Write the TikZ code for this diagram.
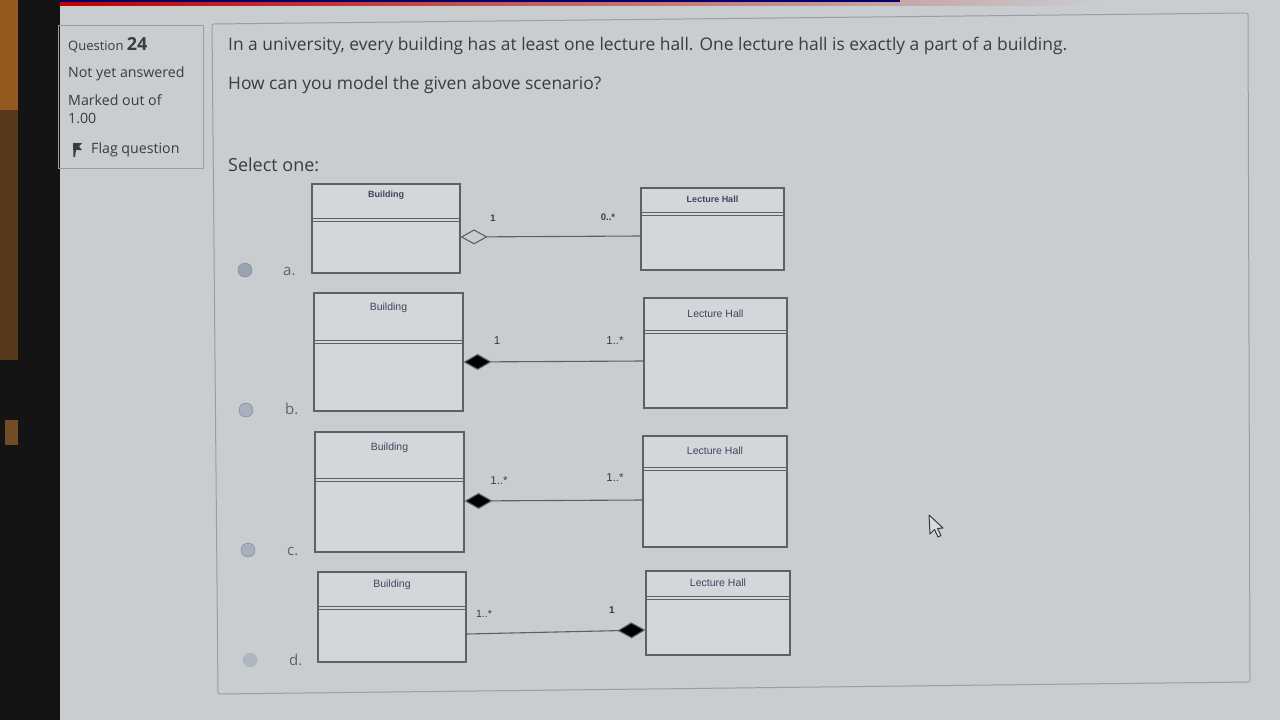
\documentclass[tikz,border=0pt]{standalone}
\usepackage{fontspec}
\setmainfont{Open Sans}
\newfontfamily\umlfont{Liberation Sans}
\usetikzlibrary{arrows.meta,calc}
\definecolor{screenbg}{HTML}{C9CDD0}
\definecolor{txt}{HTML}{3A3D40}
\definecolor{umltxt}{HTML}{3C4660}
\definecolor{boxline}{HTML}{5C6068}
\definecolor{frame}{HTML}{9A9EA2}
\definecolor{radio}{HTML}{9AA3B4}
\tikzset{
  cls/.style={draw=boxline, line width=1.1pt, fill=screenbg!80!white, inner sep=0pt},
  divl/.style={draw=boxline, line width=0.9pt},
  clsname/.style={font=\umlfont\fontsize{10.5}{12}\selectfont, text=umltxt, anchor=north, inner sep=0pt},
  mult/.style={font=\umlfont\fontsize{11.5}{12}\selectfont, text=txt, inner sep=0pt},
  conn/.style={draw=boxline, line width=1.1pt},
  aggr/.style={conn, {Diamond[open, length=27pt, width=15pt, line width=1.1pt]}-},
  comp/.style={conn, {Diamond[fill=black, length=28pt, width=16pt]}-},
  qtext/.style={font=\fontsize{17.4}{20}\selectfont, text=txt, anchor=base west, inner sep=0pt},
  info/.style={font=\fontsize{14.2}{16}\selectfont, text=txt, anchor=base west, inner sep=0pt},
  rbtn/.style={circle, draw=radio!80!black, fill=radio, minimum size=14pt, inner sep=0pt},
  rlab/.style={font=\fontsize{15}{17}\selectfont, text=txt!80, anchor=base west, inner sep=0pt}
}
\newcommand\divider[2]{\draw[divl] ([yshift=-#2 pt]#1.north west) -- ([yshift=-#2 pt]#1.north east);}
\begin{document}
\begin{tikzpicture}[x=1pt,y=-1pt]
\useasboundingbox (0,0) rectangle (1280,720);
% photo surroundings
\fill[screenbg] (0,0) rectangle (1280,720);
\fill[black!92] (0,0) rectangle (60,720);
\fill[brown!70!orange!70!black] (0,0) rectangle (18,110);
\fill[brown!45!black] (0,110) rectangle (18,360);
\fill[brown!60!black] (5,420) rectangle (18,445);
\shade[left color=red!75!black, right color=screenbg] (60,0) rectangle (1100,5);
\fill[blue!40!black] (60,0) rectangle (900,1.5);

% info box
\draw[frame, line width=1pt] (58,25) rectangle (203,168);
\node[info, anchor=base west] (qlab) at (68,50) {\fontsize{13}{15}\selectfont Question \fontsize{18}{20}\selectfont\bfseries 24};
\node[info] (status) at (68,77) {Not yet answered};
\node[info] (marked) at (68,105) {Marked out of};
\node[info] (mark) at (68,123) {1.00};
\fill[txt] (73,143) -- (82,143) -- (79,146.5) -- (82,150) -- (76,150) -- (75,157) -- (73.5,157) -- cycle;
\node[info] (flag) at (91,153) {Flag question};

% content frame
\draw[frame, line width=1pt, rounded corners=2pt] (212,24) -- (1248,13) -- (1250,682) -- (218,694) -- cycle;
\node[qtext] (q1) at (228,50) {In a university, every building has at least one lecture hall. One lecture hall is exactly a part of a building.};
\node[qtext] (q2) at (228,89) {How can you model the given above scenario?};
\node[qtext, font=\fontsize{18}{20}\selectfont] (sel) at (228,171) {Select one:};

% radio buttons
\node[rbtn] (ra) at (245,270) {};
\node[rlab] (la1) at (283,275) {a.};
\node[rbtn, fill=radio!70!screenbg] (rb) at (246,410) {};
\node[rlab] (lb1) at (285,414) {b.};
\node[rbtn, fill=radio!70!screenbg] (rc) at (248,550) {};
\node[rlab] (lc1) at (287,555) {c.};
\node[rbtn, fill=radio!55!screenbg, draw=radio!60!screenbg] (rd) at (250,660) {};
\node[rlab] (ld1) at (289,665) {d.};

% option a
\node[cls, minimum width=148pt, minimum height=89pt] (ba) at (386,228.5) {};
\node[cls, minimum width=143pt, minimum height=82pt] (lha) at (712.5,229) {};
\divider{ba}{35}\divider{ba}{38}
\divider{lha}{25}\divider{lha}{28}
\node[clsname, font=\umlfont\bfseries\fontsize{9}{10}\selectfont] (bna) at ([yshift=-7pt]ba.north) {Building};
\node[clsname, font=\umlfont\bfseries\fontsize{9}{10}\selectfont] (lna) at ([yshift=-8pt]lha.north) {Lecture Hall};
\draw[aggr] ([yshift=-8.5pt]ba.east) -- ([yshift=-7pt]lha.west);
\node[mult, font=\umlfont\bfseries\fontsize{9.5}{10}\selectfont] (ma1) at (493,218) {1};
\node[mult, font=\umlfont\bfseries\fontsize{9.5}{10}\selectfont] (ma2) at (608,217) {0..*};

% option b
\node[cls, minimum width=149pt, minimum height=118pt] (bb) at (388.5,352) {};
\node[cls, minimum width=143pt, minimum height=110pt] (lhb) at (715.5,353) {};
\divider{bb}{48}\divider{bb}{51}
\divider{lhb}{33}\divider{lhb}{36}
\node[clsname] (bnb) at ([yshift=-10pt]bb.north) {Building};
\node[clsname] (lnb) at ([yshift=-12pt]lhb.north) {Lecture Hall};
\draw[comp] ([yshift=-10pt]bb.east) -- ([yshift=-8pt]lhb.west);
\node[mult] (mb1) at (497,341) {1};
\node[mult] (mb2) at (615,341) {1..*};

% option c
\node[cls, minimum width=149pt, minimum height=120pt] (bc) at (389.5,492) {};
\node[cls, minimum width=144pt, minimum height=111pt] (lhc) at (715,491.5) {};
\divider{bc}{47}\divider{bc}{50}
\divider{lhc}{32}\divider{lhc}{35}
\node[clsname] (bnc) at ([yshift=-11pt]bc.north) {Building};
\node[clsname] (lnc) at ([yshift=-11pt]lhc.north) {Lecture Hall};
\draw[comp] ([yshift=-9pt]bc.east) -- ([yshift=-8.5pt]lhc.west);
\node[mult] (mc1) at (499,481) {1..*};
\node[mult] (mc2) at (615,478) {1..*};

% option d
\node[cls, minimum width=148pt, minimum height=90pt] (bd) at (392,617) {};
\node[cls, minimum width=144pt, minimum height=84pt] (lhd) at (718,613) {};
\divider{bd}{35}\divider{bd}{38}
\divider{lhd}{26}\divider{lhd}{29}
\node[clsname] (bnd) at ([yshift=-8pt]bd.north) {Building};
\node[clsname] (lnd) at ([yshift=-8pt]lhd.north) {Lecture Hall};
\draw[comp] ([yshift=-17pt]lhd.west) -- ([yshift=-17pt]bd.east);
\node[mult, font=\umlfont\fontsize{10.5}{11}\selectfont] (md1) at (484,614) {1..*};
\node[mult, font=\umlfont\bfseries\fontsize{10}{11}\selectfont] (md2) at (612,610) {1};

% mouse cursor
\draw[txt, line width=1pt, fill=screenbg!70!white, line join=round] (929,515) -- (930,534) -- (934.5,529.5) -- (938,537) -- (941,535.5) -- (937.5,528.5) -- (943,528) -- cycle;
\end{tikzpicture}
\end{document}
